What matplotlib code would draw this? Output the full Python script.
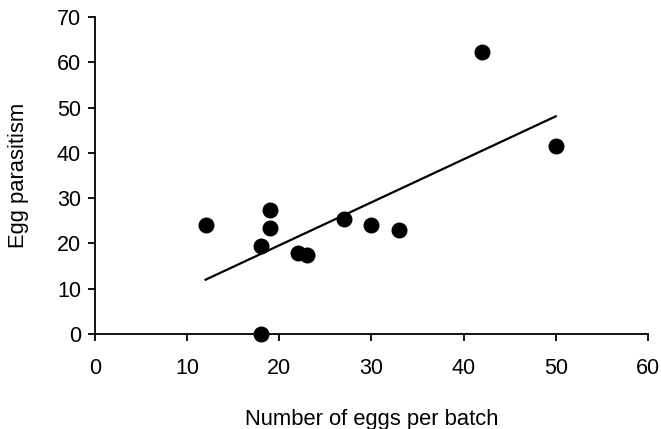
import matplotlib
matplotlib.use("Agg")
import matplotlib.pyplot as plt

eggs = [12, 18, 18, 19, 19, 22, 23, 27, 30, 33, 42, 50]
parasitism = [24.0, 19.5, 0.0, 27.5, 23.5, 17.8, 17.4, 25.4, 24.0, 23.0, 62.3, 41.5]
fit_x = [12, 50]
fit_y = [12.0, 48.1]
xticks = [0, 10, 20, 30, 40, 50, 60]
yticks = [0, 10, 20, 30, 40, 50, 60, 70]

plt.rcParams['font.family'] = ['Liberation Sans', 'DejaVu Sans']
fig = plt.figure(figsize=(6.61, 4.29), dpi=100)
ax = fig.add_axes([0.1437, 0.2214, 0.9803 - 0.1437, 0.960 - 0.2214])

ax.plot(fit_x, fit_y, color='black', lw=1.6, zorder=2)
ax.scatter(eggs, parasitism, s=110, color='black', zorder=3, clip_on=False)

ax.set_xlim(0, 60)
ax.set_ylim(0, 70)
ax.set_xticks(xticks)
ax.set_yticks(yticks)
for s in ['top', 'right']:
    ax.spines[s].set_visible(False)
for s in ['left', 'bottom']:
    ax.spines[s].set_linewidth(1.3)
ax.tick_params(direction='out', length=5, width=1.3, labelsize=15.5, pad=12)
ax.tick_params(axis='y', pad=5)
ax.set_xlabel('Number of eggs per batch', fontsize=15.8, labelpad=22)
ax.set_ylabel('Egg parasitism', fontsize=15.8, labelpad=20)

fig.savefig('out.png', dpi=100)
